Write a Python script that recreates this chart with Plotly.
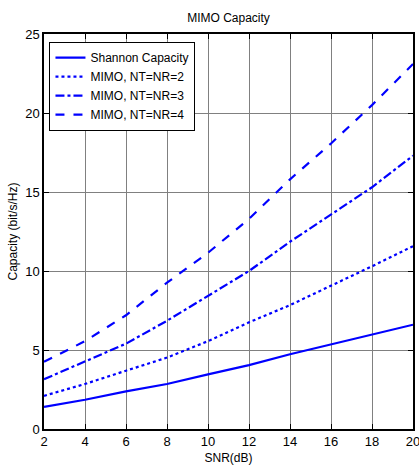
import plotly.graph_objects as go

snr_db = [2, 4, 6, 8, 10, 12, 14, 16, 18, 20]
shannon = [1.40, 1.85, 2.38, 2.85, 3.46, 4.04, 4.73, 5.35, 5.94, 6.60]
mimo2 = [2.10, 2.85, 3.69, 4.52, 5.56, 6.75, 7.84, 9.05, 10.3, 11.57]
mimo3 = [3.15, 4.25, 5.40, 6.85, 8.43, 10.0, 11.85, 13.6, 15.3, 17.3]
mimo4 = [4.25, 5.56, 7.20, 9.26, 11.15, 13.3, 15.8, 18.07, 20.5, 23.1]

names = ["Shannon Capacity", "MIMO, NT=NR=2", "MIMO, NT=NR=3", "MIMO, NT=NR=4"]
dashes = ["solid", "dot", "dashdot", "dash"]

FONT = "Liberation Sans, Arial, sans-serif"

fig = go.Figure()
for name, ys, d in zip(names, [shannon, mimo2, mimo3, mimo4], dashes):
    fig.add_trace(go.Scatter(x=snr_db, y=ys, mode="lines", name=name,
                             line=dict(color="#0000ff", width=2.2, dash=d)))

axis_common = dict(showline=True, linecolor="black", linewidth=1.5, mirror="ticks",
                   ticks="inside", ticklen=5, tickcolor="black",
                   showgrid=True, gridcolor="#808080", gridwidth=1,
                   zeroline=False, automargin=False, ticklabeloverflow="allow",
                   tickfont=dict(size=13, color="black", family=FONT))

fig.update_layout(
    width=419, height=468,
    margin=dict(l=44, r=6, t=34, b=39),
    paper_bgcolor="white", plot_bgcolor="white",
    font=dict(family=FONT, size=12, color="black"),
    title=dict(text="MIMO Capacity", xref="paper", x=0.5, xanchor="center",
               yref="container", y=1 - 18 / 468, yanchor="middle",
               font=dict(size=12, color="black", family=FONT)),
    xaxis=dict(range=[2, 20], dtick=2, tick0=2,
               title=dict(text="SNR(dB)", standoff=5, font=dict(size=12)), **axis_common),
    yaxis=dict(range=[0, 25], dtick=5, tick0=0,
               title=dict(text="Capacity (bit/s/Hz)", standoff=5, font=dict(size=12)), **axis_common),
    legend=dict(x=0.014, y=0.98, xanchor="left", yanchor="top",
                bgcolor="white", bordercolor="black", borderwidth=1.3,
                font=dict(size=12, color="black", family=FONT), tracegroupgap=0),
    showlegend=True,
)

fig.write_html("out.html", config={"displayModeBar": False},
               post_script="document.body.style.margin='0';document.body.style.overflow='hidden';")
